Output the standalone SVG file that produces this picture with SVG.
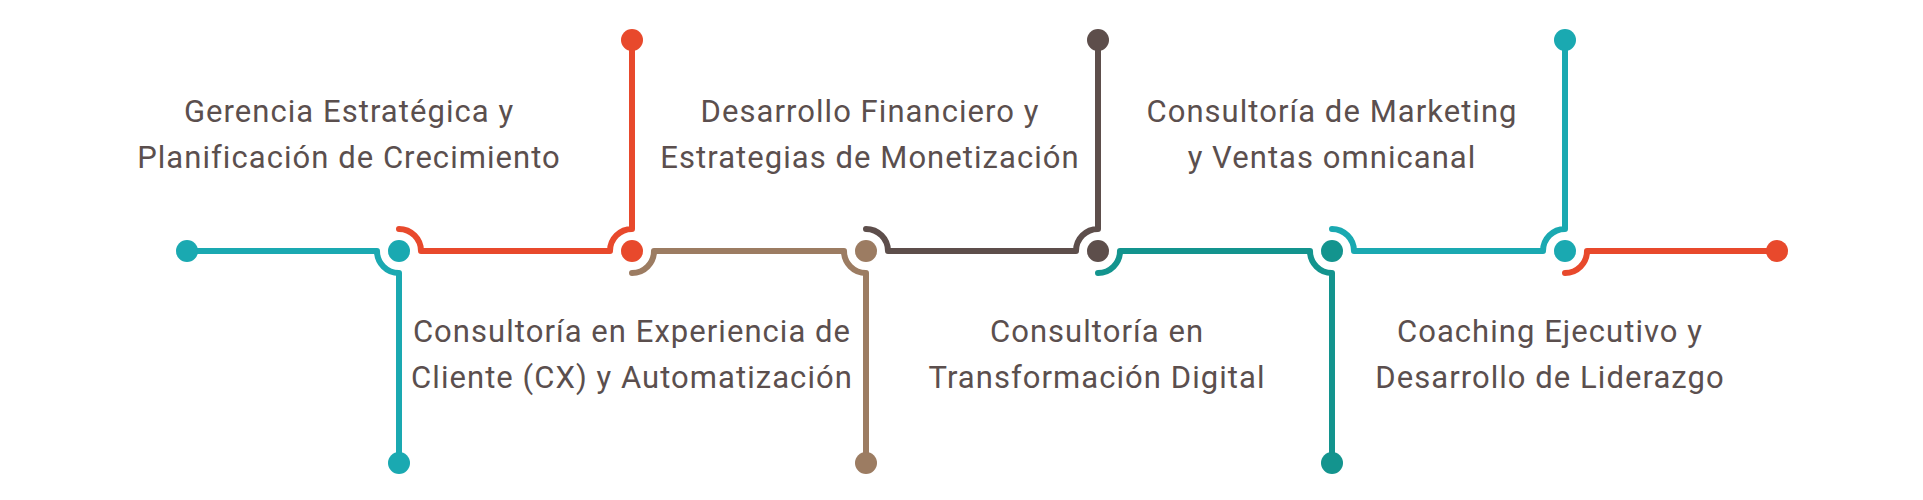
<svg xmlns="http://www.w3.org/2000/svg" width="1923" height="500" viewBox="0 0 1923 500">
<style>
.bg{fill:#ffffff}
.ln{fill:none;stroke-width:6;stroke-linecap:round;stroke-linejoin:round}
.lbl{font-family:Roboto,"Liberation Sans",sans-serif;font-size:31px;letter-spacing:1.05px;fill:#5b4f4e;text-anchor:middle}
.teal{stroke:#1aa9b1}.tealf{fill:#1aa9b1}
.red{stroke:#e8492c}.redf{fill:#e8492c}
.tan{stroke:#9c7c62}.tanf{fill:#9c7c62}
.brn{stroke:#5d4e4b}.brnf{fill:#5d4e4b}
.dtl{stroke:#13948e}.dtlf{fill:#13948e}
</style>
<rect class="bg" x="0" y="0" width="1923" height="500"/>
<g id="connectors">
<path class="ln teal" d="M187 251 H377 A22 22 0 0 0 399 273 V463"/>
<path class="ln red" d="M399 229 A22 22 0 0 1 421 251 H610 A22 22 0 0 1 632 229 V40"/>
<path class="ln tan" d="M632 273 A22 22 0 0 0 654 251 H844 A22 22 0 0 0 866 273 V463"/>
<path class="ln brn" d="M866 229 A22 22 0 0 1 888 251 H1076 A22 22 0 0 1 1098 229 V40"/>
<path class="ln dtl" d="M1098 273 A22 22 0 0 0 1120 251 H1310 A22 22 0 0 0 1332 273 V463"/>
<path class="ln teal" d="M1332 229 A22 22 0 0 1 1354 251 H1543 A22 22 0 0 1 1565 229 V40"/>
<path class="ln red" d="M1565 273 A22 22 0 0 0 1587 251 H1777"/>
</g>
<g id="start"><circle class="tealf" cx="187" cy="251" r="11"/></g>
<g id="node-cx">
<circle class="tealf" cx="399" cy="251" r="11"/>
<circle class="tealf" cx="399" cy="463" r="11"/>
<text class="lbl" x="632" y="342">Consultoría en Experiencia de</text>
<text class="lbl" x="632" y="388">Cliente (CX) y Automatización</text>
</g>
<g id="node-gerencia">
<circle class="redf" cx="632" cy="251" r="11"/>
<circle class="redf" cx="632" cy="40" r="11"/>
<text class="lbl" x="349" y="122">Gerencia Estratégica y</text>
<text class="lbl" x="349" y="168">Planificación de Crecimiento</text>
</g>
<g id="node-financiero">
<circle class="tanf" cx="866" cy="251" r="11"/>
<circle class="tanf" cx="866" cy="463" r="11"/>
<text class="lbl" x="870" y="122">Desarrollo Financiero y</text>
<text class="lbl" x="870" y="168">Estrategias de Monetización</text>
</g>
<g id="node-transformacion">
<circle class="brnf" cx="1098" cy="251" r="11"/>
<circle class="brnf" cx="1098" cy="40" r="11"/>
<text class="lbl" x="1097" y="342">Consultoría en</text>
<text class="lbl" x="1097" y="388">Transformación Digital</text>
</g>
<g id="node-marketing">
<circle class="dtlf" cx="1332" cy="251" r="11"/>
<circle class="dtlf" cx="1332" cy="463" r="11"/>
<text class="lbl" x="1332" y="122">Consultoría de Marketing</text>
<text class="lbl" x="1332" y="168">y Ventas omnicanal</text>
</g>
<g id="node-coaching">
<circle class="tealf" cx="1565" cy="251" r="11"/>
<circle class="tealf" cx="1565" cy="40" r="11"/>
<text class="lbl" x="1550" y="342">Coaching Ejecutivo y</text>
<text class="lbl" x="1550" y="388">Desarrollo de Liderazgo</text>
</g>
<g id="end"><circle class="redf" cx="1777" cy="251" r="11"/></g>
</svg>
